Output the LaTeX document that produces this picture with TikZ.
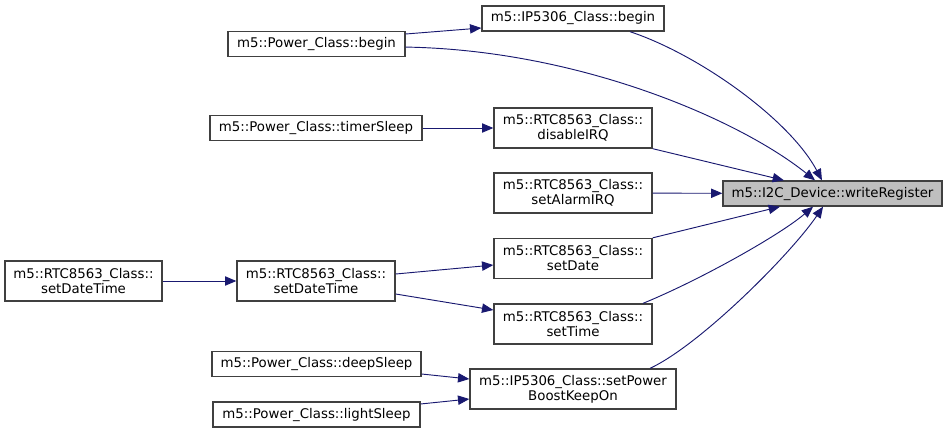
\documentclass[tikz,border=0pt]{standalone}
\usepackage{fontspec}
\setmainfont{DejaVu Sans}
\usetikzlibrary{arrows.meta}
\definecolor{edgeblue}{HTML}{191970}
\definecolor{boxline}{HTML}{404040}
\definecolor{hlgray}{HTML}{BFBFBF}

\begin{document}
\begin{tikzpicture}[x=0.75pt, y=-0.75pt,
    fn/.style={draw=boxline, line width=1pt, inner sep=0pt, align=center,
        minimum height=18.75pt, font=\fontsize{10}{11.25}\selectfont},
    fntwo/.style={fn, minimum height=30pt},
    call/.style={draw=edgeblue, line width=0.7pt, -{Triangle[length=8.5pt,width=7pt]}}]
    \useasboundingbox (0,0) rectangle (948,433);
    % the called function
    \node[fn, fill=hlgray, minimum width=164.25pt] (wr) at (832.5,193.5) {m5::I2C\_Device::writeRegister};
    % direct callers
    \node[fn, minimum width=136.5pt] (ipbegin) at (573,18.5) {m5::IP5306\_Class::begin};
    \node[fntwo, minimum width=118.5pt] (disable) at (573,128) {m5::RTC8563\_Class::\\disableIRQ};
    \node[fntwo, minimum width=118.5pt] (alarm) at (573,193) {m5::RTC8563\_Class::\\setAlarmIRQ};
    \node[fntwo, minimum width=118.5pt] (setdate) at (573,258.5) {m5::RTC8563\_Class::\\setDate};
    \node[fntwo, minimum width=118.5pt] (settime) at (573,324) {m5::RTC8563\_Class::\\setTime};
    \node[fntwo, minimum width=154.5pt] (boost) at (573,389) {m5::IP5306\_Class::setPower\\BoostKeepOn};
    % callers further out
    \node[fn, minimum width=132.75pt] (pbegin) at (316.5,44) {m5::Power\_Class::begin};
    \node[fn, minimum width=159pt] (timer) at (316,128) {m5::Power\_Class::timerSleep};
    \node[fntwo, minimum width=118.5pt] (sdt1) at (316,281) {m5::RTC8563\_Class::\\setDateTime};
    \node[fntwo, minimum width=117.75pt] (sdt2) at (83.5,281) {m5::RTC8563\_Class::\\setDateTime};
    \node[fn, minimum width=156.75pt] (deep) at (316.5,364) {m5::Power\_Class::deepSleep};
    \node[fn, minimum width=155.25pt] (light) at (316.5,414.5) {m5::Power\_Class::lightSleep};
    % calls into writeRegister
    \draw[call] (ipbegin.south) ++(57,0) .. controls (700,55) and (790,120) .. ([xshift=-7.9pt]wr.north);
    \draw[call] ([yshift=-2.3pt]pbegin.east) .. controls (580,50) and (740,120) .. ([xshift=-13.1pt]wr.north);
    \draw[call] (disable.south east) -- ([xshift=-36.4pt]wr.north);
    \draw[call] (alarm) -- (wr);
    \draw[call] (setdate.north east) -- ([xshift=-39.4pt]wr.south);
    \draw[call] ([xshift=52.5pt]settime.north) .. controls (700,280) and (780,235) .. ([xshift=-14.6pt]wr.south);
    \draw[call] ([xshift=57.75pt]boost.north) .. controls (700,345) and (790,255) .. ([xshift=-7.1pt]wr.south);
    % calls between callers
    \draw[call] ([yshift=7.5pt]pbegin.east) -- ([yshift=-7.1pt]ipbegin.west);
    \draw[call] (timer) -- (disable);
    \draw[call] (sdt2) -- (sdt1);
    \draw[call] ([yshift=5.25pt]sdt1.east) -- ([yshift=-4.9pt]setdate.west);
    \draw[call] ([yshift=-9.75pt]sdt1.east) -- ([yshift=10.5pt]settime.west);
    \draw[call] ([yshift=-7.5pt]deep.east) -- ([yshift=7.5pt]boost.west);
    \draw[call] ([yshift=7.9pt]light.east) -- ([yshift=-7.5pt]boost.west);
\end{tikzpicture}
\end{document}
